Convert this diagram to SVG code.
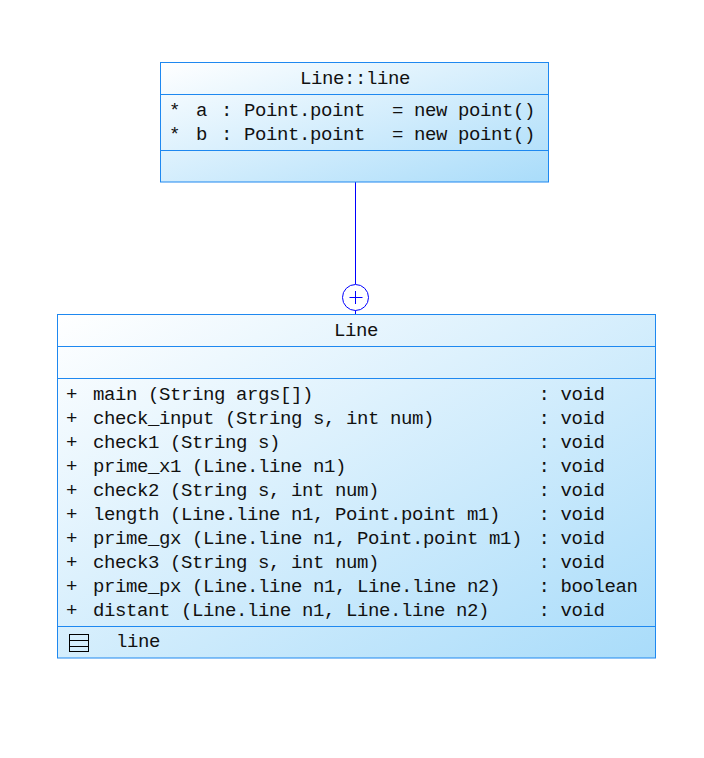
<svg xmlns="http://www.w3.org/2000/svg" width="704" height="758" viewBox="0 0 704 758">
  <defs>
    <linearGradient id="fill" x1="0" y1="0" x2="1" y2="1">
      <stop offset="0" stop-color="#ffffff"/>
      <stop offset="1" stop-color="#a9dcfa"/>
    </linearGradient>
  </defs>
  <style>
    .box { fill: url(#fill); stroke: #1e88f0; stroke-width: 1; }
    .sep { stroke: #1e88f0; stroke-width: 1; }
    .t { font-family: "Liberation Mono", "DejaVu Sans Mono", monospace; font-size: 19px; letter-spacing: -0.4px; fill: #111; }
    .c { text-anchor: middle; }
    .conn { stroke: #0000ff; stroke-width: 1; fill: none; }
  </style>
  <rect width="704" height="758" fill="#ffffff"/>

  <g id="connectors">
    <line class="conn" x1="355.5" y1="182" x2="355.5" y2="284"/>
    <circle class="conn" cx="355.5" cy="297.5" r="13" fill="#ffffff"/>
    <line class="conn" x1="349.5" y1="297.5" x2="362.5" y2="297.5"/>
    <line class="conn" x1="355.5" y1="291" x2="355.5" y2="304"/>
    <line class="conn" x1="355.5" y1="310.5" x2="355.5" y2="314"/>
  </g>

  <g id="node-line-line">
    <rect class="box" x="160.5" y="62.5" width="388" height="119.5"/>
    <line class="sep" x1="160.5" y1="94.5" x2="548.5" y2="94.5"/>
    <line class="sep" x1="160.5" y1="150.5" x2="548.5" y2="150.5"/>
    <text class="t c" x="355" y="84">Line::line</text>
    <text class="t" x="169" y="116">*</text>
    <text class="t" x="196" y="116">a</text>
    <text class="t" x="221" y="116">:</text>
    <text class="t" x="244" y="116">Point.point</text>
    <text class="t" x="392" y="116">=</text>
    <text class="t" x="414" y="116">new point()</text>
    <text class="t" x="169" y="140">*</text>
    <text class="t" x="196" y="140">b</text>
    <text class="t" x="221" y="140">:</text>
    <text class="t" x="244" y="140">Point.point</text>
    <text class="t" x="392" y="140">=</text>
    <text class="t" x="414" y="140">new point()</text>
  </g>

  <g id="node-Line">
    <rect class="box" x="57.5" y="314.5" width="598" height="343.5"/>
    <line class="sep" x1="57.5" y1="346.5" x2="655.5" y2="346.5"/>
    <line class="sep" x1="57.5" y1="378.5" x2="655.5" y2="378.5"/>
    <line class="sep" x1="57.5" y1="626.5" x2="655.5" y2="626.5"/>
    <text class="t c" x="356" y="336">Line</text>

    <text class="t" x="66" y="400">+</text><text class="t" x="93" y="400">main (String args[])</text><text class="t" x="538.5" y="400">: void</text>
    <text class="t" x="66" y="424">+</text><text class="t" x="93" y="424">check_input (String s, int num)</text><text class="t" x="538.5" y="424">: void</text>
    <text class="t" x="66" y="448">+</text><text class="t" x="93" y="448">check1 (String s)</text><text class="t" x="538.5" y="448">: void</text>
    <text class="t" x="66" y="472">+</text><text class="t" x="93" y="472">prime_x1 (Line.line n1)</text><text class="t" x="538.5" y="472">: void</text>
    <text class="t" x="66" y="496">+</text><text class="t" x="93" y="496">check2 (String s, int num)</text><text class="t" x="538.5" y="496">: void</text>
    <text class="t" x="66" y="520">+</text><text class="t" x="93" y="520">length (Line.line n1, Point.point m1)</text><text class="t" x="538.5" y="520">: void</text>
    <text class="t" x="66" y="544">+</text><text class="t" x="93" y="544">prime_gx (Line.line n1, Point.point m1)</text><text class="t" x="538.5" y="544">: void</text>
    <text class="t" x="66" y="568">+</text><text class="t" x="93" y="568">check3 (String s, int num)</text><text class="t" x="538.5" y="568">: void</text>
    <text class="t" x="66" y="592">+</text><text class="t" x="93" y="592">prime_px (Line.line n1, Line.line n2)</text><text class="t" x="538.5" y="592">: boolean</text>
    <text class="t" x="66" y="616">+</text><text class="t" x="93" y="616">distant (Line.line n1, Line.line n2)</text><text class="t" x="538.5" y="616">: void</text>

    <rect x="69.5" y="634.5" width="19" height="17" fill="none" stroke="#000" stroke-width="1"/>
    <line x1="69.5" y1="640.5" x2="88.5" y2="640.5" stroke="#000" stroke-width="1"/>
    <line x1="69.5" y1="646.5" x2="88.5" y2="646.5" stroke="#000" stroke-width="1"/>
    <text class="t" x="116" y="647">line</text>
  </g>
</svg>
